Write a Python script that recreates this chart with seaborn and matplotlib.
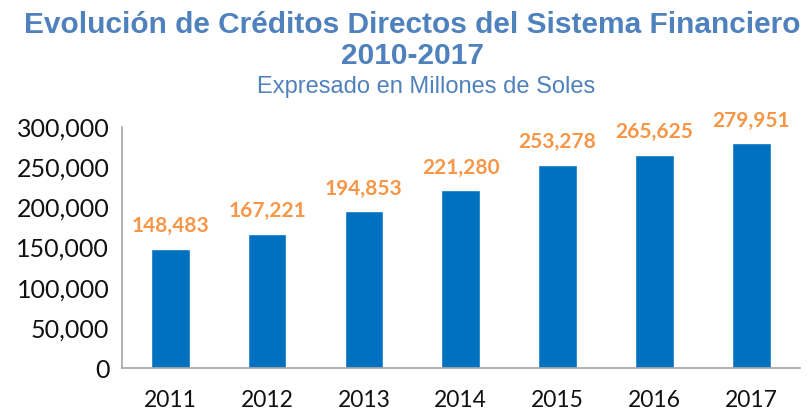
import pandas as pd
import seaborn as sns
import matplotlib.pyplot as plt

# Data
years = ['2011', '2012', '2013', '2014', '2015', '2016', '2017']
creditos = [148483, 167221, 194853, 221280, 253278, 265625, 279951]

df = pd.DataFrame({'year': years, 'creditos': creditos})

sns.set_style('white')
plt.rcParams['font.family'] = ['Lato', 'DejaVu Sans']

fig = plt.figure(figsize=(8.12, 4.15), dpi=100)
ax = fig.add_axes([0.150, 0.113, 0.835, 0.581])

sns.barplot(data=df, x='year', y='creditos', color='#0070C0', saturation=1,
            width=0.4, ax=ax)

for i, v in enumerate(creditos):
    ax.annotate(f'{v:,}', (i, v), xytext=(0, 9), textcoords='offset points',
                ha='center', va='bottom', fontsize=15, fontweight='bold',
                color='#F79646')

ax.set_ylim(0, 300000)
ax.set_xlim(-0.5, 6.5)
ax.set_yticks(range(0, 300001, 50000))
ax.set_yticklabels([f'{t:,}' for t in range(0, 300001, 50000)])
ax.set_xlabel('')
ax.set_ylabel('')

# category ticks sit between the bars
ax.set_xticks([x - 0.5 for x in range(8)], minor=True)
ax.tick_params(axis='x', which='major', length=0, labelsize=16.5, pad=16,
               labelcolor='#111111')
ax.tick_params(axis='x', which='minor', length=6, color='#A6A6A6', width=1.2)
ax.tick_params(axis='y', length=6, color='#A6A6A6', width=1.2, labelsize=18,
               pad=3, labelcolor='#111111')

sns.despine(ax=ax, top=True, right=True)
for side in ['left', 'bottom']:
    ax.spines[side].set_color('#A6A6A6')
    ax.spines[side].set_linewidth(1.2)

fig.text(0.508, 0.921, 'Evolución de Créditos Directos del Sistema Financiero',
         ha='center', va='baseline', fontsize=21.5, fontweight='bold',
         color='#4F81BD', family='Liberation Sans')
fig.text(0.508, 0.845, '2010-2017', ha='center', va='baseline', fontsize=21.5,
         fontweight='bold', color='#4F81BD', family='Liberation Sans')
fig.text(0.525, 0.776, 'Expresado en Millones de Soles', ha='center',
         va='baseline', fontsize=17, color='#4F81BD', family='Liberation Sans')

plt.savefig('out.png', dpi=100)
